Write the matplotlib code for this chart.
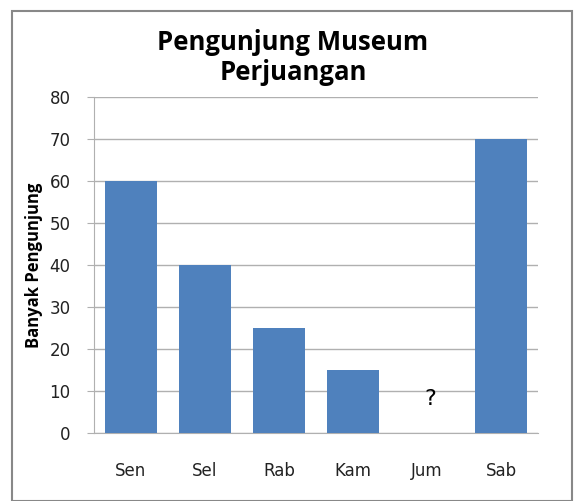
#!/usr/bin/env python3
import matplotlib
matplotlib.use('Agg')
from matplotlib import pyplot as plt
from matplotlib.patches import Rectangle

days = ['Sen', 'Sel', 'Rab', 'Kam', 'Jum', 'Sab']
visitors = [60, 40, 25, 15, 0, 70]
unknown_day = 'Jum'
unknown_mark = '?'
unknown_y = 8
yticks = list(range(0, 81, 10))

bar_color = '#4f81bd'
grid_color = '#b0b0b0'

fig = plt.figure(figsize=(5.75, 5.01), dpi=100)
ax = fig.add_axes([94/575, 68/501, 444/575, 336/501])

x = list(range(len(days)))
heights = [v if d != unknown_day else 0 for d, v in zip(days, visitors)]
ax.bar(x, heights, width=0.7, color=bar_color, zorder=3)
ax.text(days.index(unknown_day) + 0.05, unknown_y, unknown_mark, ha='center', va='center',
        fontsize=16, family='DejaVu Sans', zorder=4)

ax.set_xlim(-0.5, len(days) - 0.5)
ax.set_ylim(0, 80)
ax.set_yticks(yticks)
ax.set_xticks(x)
ax.set_xticklabels(days, fontsize=12, color='#222222')
ax.tick_params(axis='x', length=0, pad=21)
ax.tick_params(axis='y', length=5, direction='out', color=grid_color,
               labelsize=12, labelcolor='#222222', pad=12)
ax.yaxis.grid(True, color=grid_color, linewidth=1, zorder=0)
for s in ['top', 'right']:
    ax.spines[s].set_visible(False)
ax.spines['left'].set_color(grid_color)
ax.spines['bottom'].set_color(grid_color)

ax.set_ylabel('Banyak Pengunjung', fontsize=12, fontweight='bold', family='Open Sans')
ax.yaxis.set_label_coords(-0.115, 0.5)

fig.text(293/575, 1 - 42/501, 'Pengunjung Museum', ha='center', va='center',
         fontsize=18.5, fontweight='bold', family='Open Sans')
fig.text(293/575, 1 - 73/501, 'Perjuangan', ha='center', va='center',
         fontsize=18.5, fontweight='bold', family='Open Sans')

fig.patches.append(Rectangle((12/575, 0), 560/575, 1 - 11/501, transform=fig.transFigure,
                             fill=False, edgecolor='#888888', linewidth=1.5))

fig.savefig('out.png', dpi=100)
